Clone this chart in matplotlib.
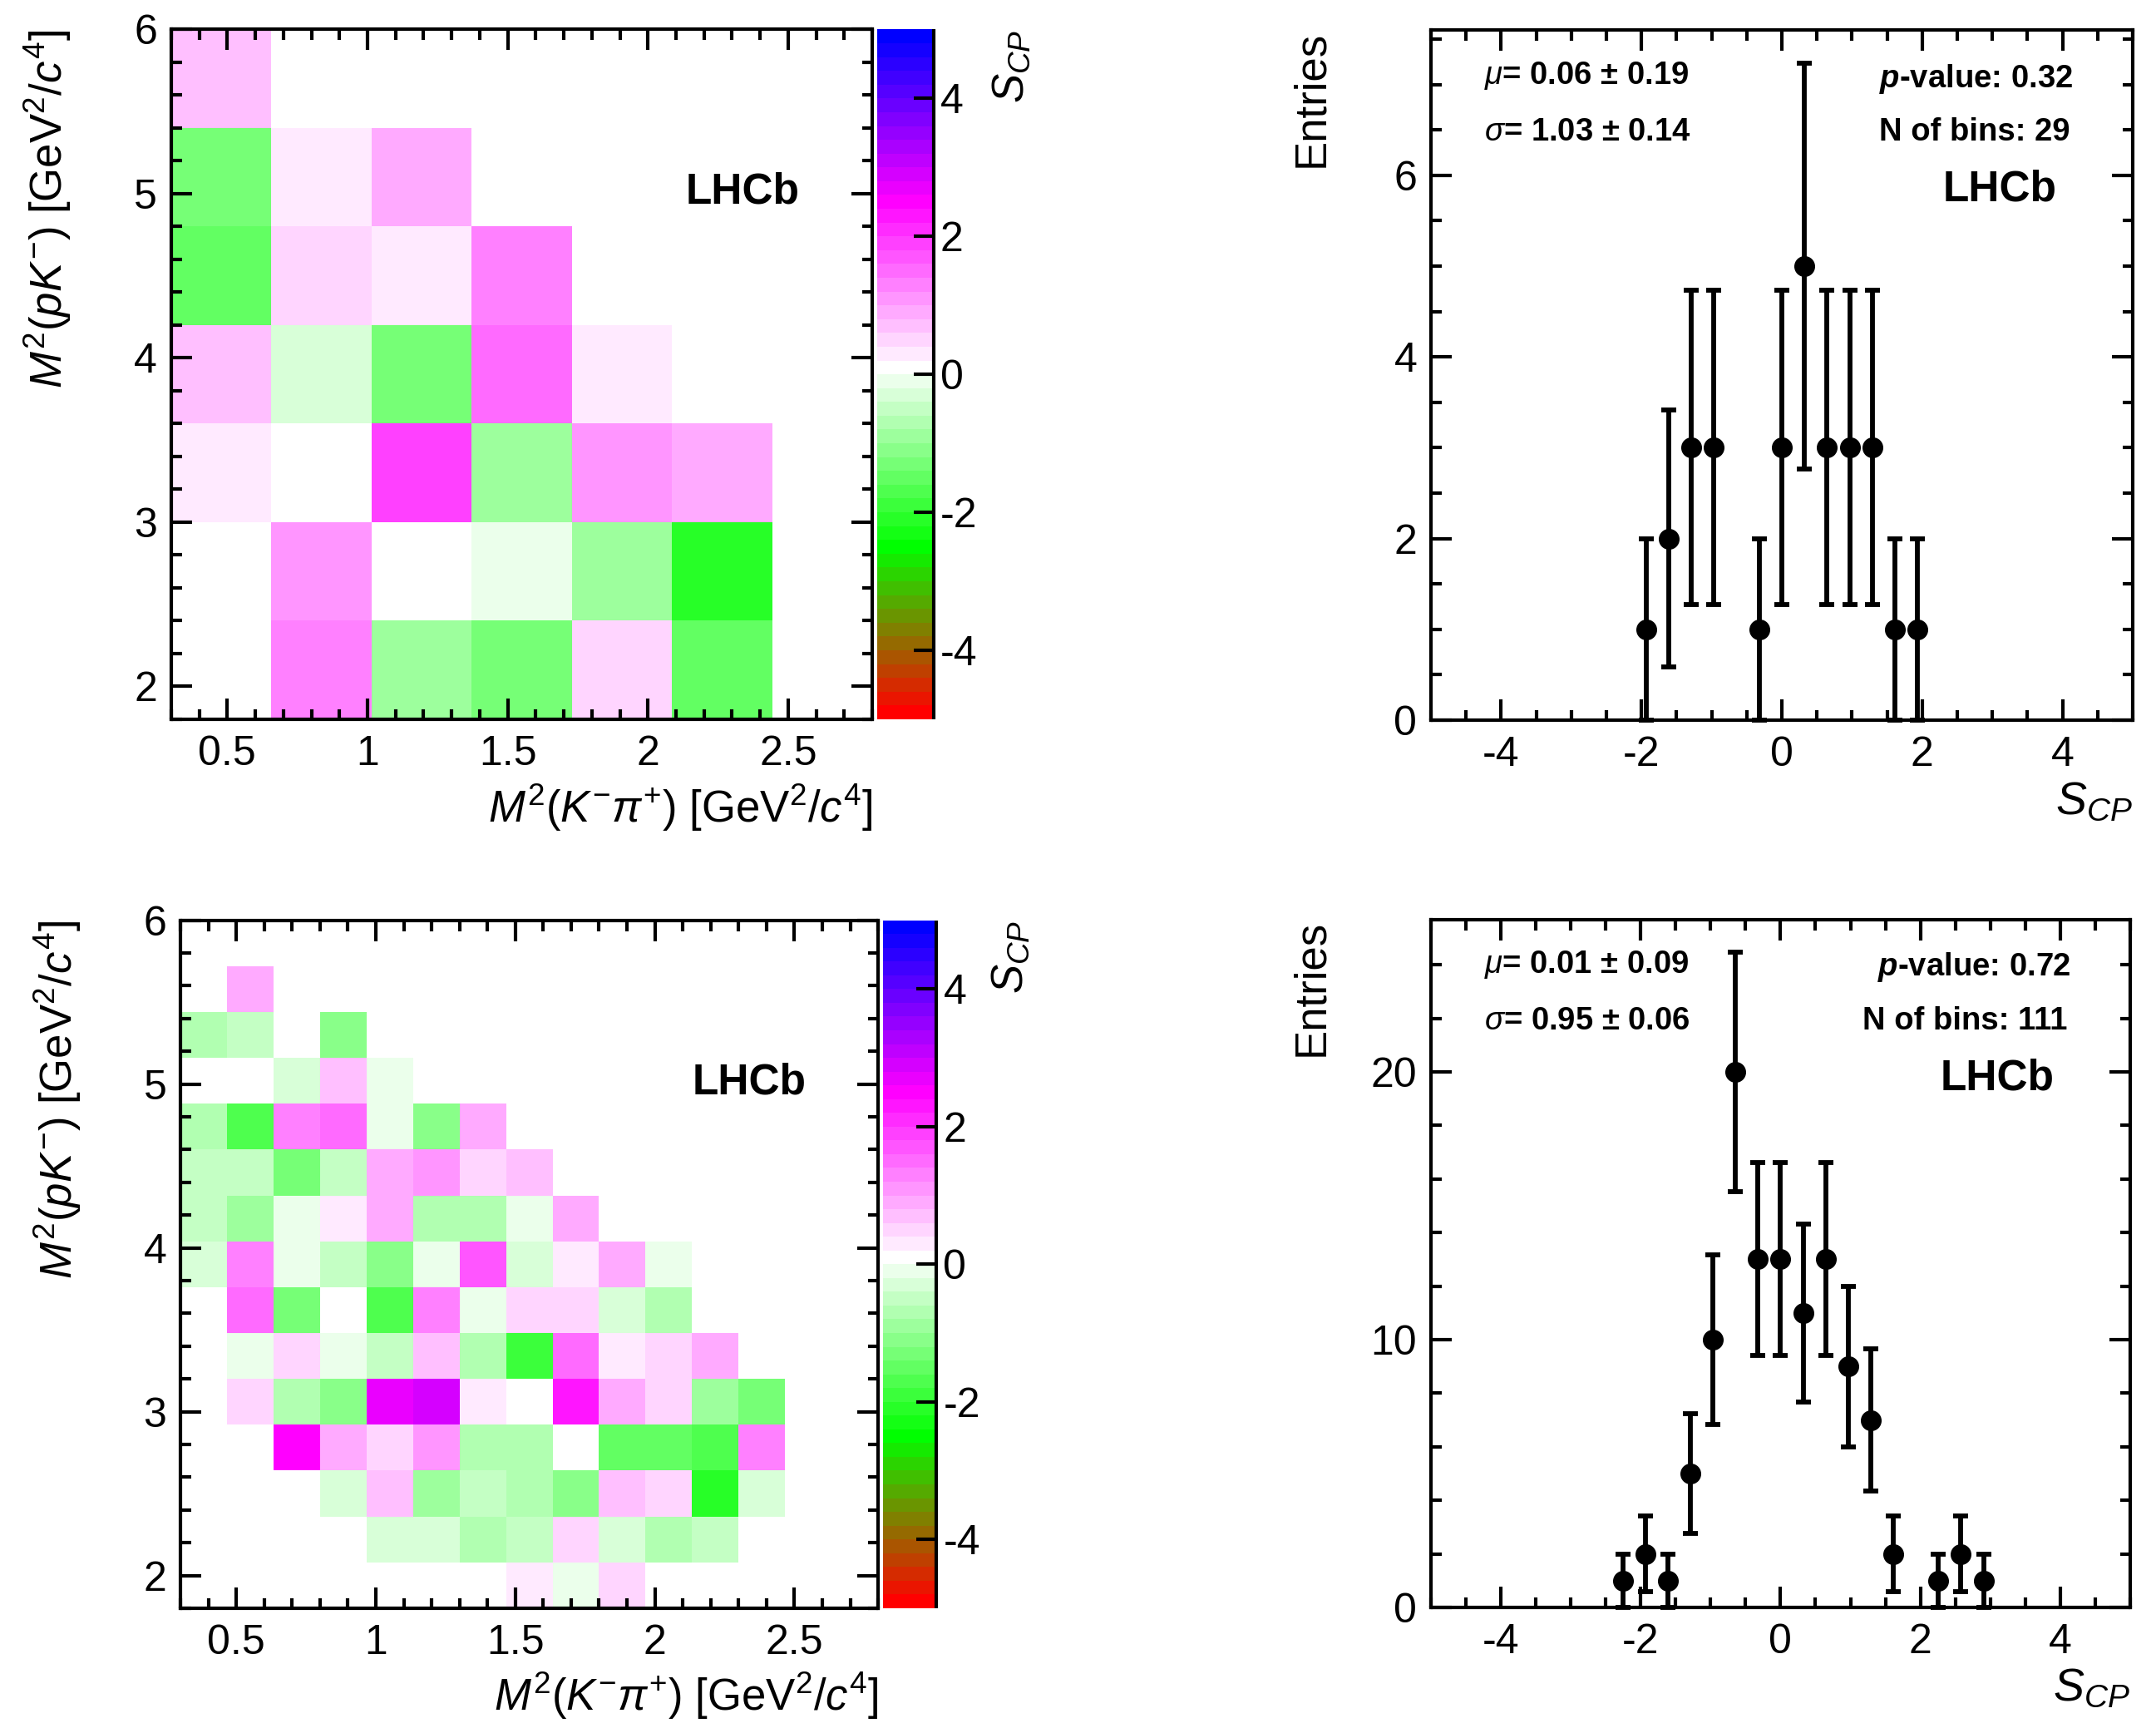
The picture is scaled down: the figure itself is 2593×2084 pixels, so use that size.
import numpy as np
import matplotlib
matplotlib.use("Agg")
import matplotlib.pyplot as plt
from matplotlib.colors import ListedColormap, BoundaryNorm
from matplotlib.ticker import MultipleLocator, FuncFormatter

plt.rcParams['font.family'] = ['Liberation Sans', 'DejaVu Sans']
plt.rcParams['mathtext.fontset'] = 'custom'
plt.rcParams['mathtext.rm'] = 'Liberation Sans'
plt.rcParams['mathtext.it'] = 'Liberation Sans:italic'
plt.rcParams['mathtext.bf'] = 'Liberation Sans:bold'
plt.rcParams['mathtext.bfit'] = 'Liberation Sans:italic:bold'
plt.rcParams['axes.unicode_minus'] = False

n = np.nan
# ---------------- data ----------------
# Dalitz-plot binning
m2_kpi_range = (0.3, 2.8)
m2_pk_range = (1.8, 6.0)
coarse_nbins = 7
fine_nbins = 15

# S_CP per bin, coarse binning; rows from low M2(pK) to high, columns low->high M2(Kpi)
scp_coarse = [
    [n, 1.3, -0.9, -1.3, 0.5, -1.5, n],
    [n, 1.1, 0.1, -0.1, -0.9, -2.1, n],
    [0.3, 0.1, 1.9, -0.9, 1.1, 0.9, n],
    [0.7, -0.3, -1.3, 1.5, 0.3, n, n],
    [-1.5, 0.5, 0.3, 1.3, n, n, n],
    [-1.3, 0.3, 0.9, n, n, n, n],
    [0.7, n, n, n, n, n, n],
]

# S_CP per bin, fine binning
scp_fine = [
    [n, n, n, n, n, n, n, 0.3, -0.1, 0.5, n, n, n, n, n],
    [n, n, n, n, -0.3, -0.3, -0.7, -0.5, 0.5, -0.3, -0.7, -0.5, n, n, n],
    [n, n, n, -0.3, 0.7, -0.9, -0.5, -0.7, -1.1, 0.7, 0.5, -2.1, -0.3, n, n],
    [n, n, 2.5, 0.9, 0.5, 1.1, -0.7, -0.7, 0.1, -1.5, -1.5, -1.7, 1.3, n, n],
    [n, 0.5, -0.7, -1.1, 2.7, 2.9, 0.3, 0.1, 2.3, 0.9, 0.5, -0.9, -1.3, n, n],
    [n, -0.1, 0.5, -0.1, -0.5, 0.7, -0.7, -1.9, 1.5, 0.3, 0.5, 0.9, n, n, n],
    [0.1, 1.5, -1.3, 0.1, -1.7, 1.3, -0.1, 0.5, 0.5, -0.3, -0.7, n, n, n, n],
    [-0.3, 1.3, -0.1, -0.5, -1.1, -0.1, 1.7, -0.3, 0.3, 0.9, -0.1, n, n, n, n],
    [-0.5, -0.9, -0.1, 0.3, 0.9, -0.7, -0.7, -0.1, 0.9, n, n, n, n, n, n],
    [-0.5, -0.5, -1.3, -0.5, 0.9, 1.1, 0.5, 0.7, n, n, n, n, n, n, n],
    [-0.7, -1.7, 1.3, 1.5, -0.1, -1.1, 0.9, n, n, n, n, n, n, n, n],
    [0.1, 0.1, -0.3, 0.7, -0.1, n, n, n, n, n, n, n, n, n, n],
    [-0.7, -0.5, 0.1, -1.1, n, n, n, n, n, n, n, n, n, n, n],
    [n, 0.9, n, n, n, n, n, n, n, n, n, n, n, n, n],
    [n, n, n, n, n, n, n, n, n, n, n, n, n, n, n],
]

# S_CP distributions: 31 bins in [-5, 5]
scp_hist_range = (-5.0, 5.0)
hist_nbins = 31
counts_coarse = [0, 0, 0, 0, 0, 0, 0, 0, 0, 1, 2, 3, 3, 0, 1, 3, 5, 3, 3, 3, 1, 1,
                 0, 0, 0, 0, 0, 0, 0, 0, 0]
counts_fine = [0, 0, 0, 0, 0, 0, 0, 0, 1, 2, 1, 5, 10, 20, 13, 13, 11, 13, 9, 7, 2, 0,
               1, 2, 1, 0, 0, 0, 0, 0, 0]

stats_coarse = [r"$\mu$= 0.06 ± 0.19", r"$\sigma$= 1.03 ± 0.14",
                r"$\mathbfit{p}$-value: 0.32", "N of bins: 29"]
stats_fine = [r"$\mu$= 0.01 ± 0.09", r"$\sigma$= 0.95 ± 0.06",
              r"$\mathbfit{p}$-value: 0.72", "N of bins: 111"]

z_range = (-5.0, 5.0)
z_levels = 50

# ---------------- palette ----------------
stop_k = [0, 12, 25, 37, 49]
stop_rgb = np.array([(1, 0, 0), (0, 1, 0), (1, 1, 1), (1, 0, 1), (0, 0, 1)], float)
ks = np.arange(z_levels)
pal = np.stack([np.interp(ks, stop_k, stop_rgb[:, c]) for c in range(3)], axis=1)
cmap = ListedColormap(pal)
norm = BoundaryNorm(np.linspace(z_range[0], z_range[1], z_levels + 1), z_levels)

fig = plt.figure(figsize=(25.93, 20.84), dpi=100)

LW = 3.0
TICK_FS = 36
LABEL_FS = 38
gfmt = FuncFormatter(lambda v, p: "%g" % v)


def style(ax):
    for s in ax.spines.values():
        s.set_linewidth(LW)
    ax.tick_params(which='both', direction='in', top=True, right=True, width=LW,
                   labelsize=TICK_FS)
    ax.tick_params(which='major', length=18)
    ax.tick_params(which='minor', length=9)
    ax.tick_params(axis='x', which='both', pad=14)
    ax.tick_params(axis='y', which='both', pad=12)


def heatmap(rect, cbrect, values, nb):
    ax = fig.add_axes(rect)
    xe = np.linspace(m2_kpi_range[0], m2_kpi_range[1], nb + 1)
    ye = np.linspace(m2_pk_range[0], m2_pk_range[1], nb + 1)
    arr = np.ma.masked_invalid(np.array(values, float))
    mesh = ax.pcolormesh(xe, ye, arr, cmap=cmap, norm=norm, shading='flat',
                         antialiased=False, edgecolors='none')
    ax.set_xlim(*m2_kpi_range)
    ax.set_ylim(*m2_pk_range)
    style(ax)
    ax.xaxis.set_major_locator(MultipleLocator(0.5))
    ax.xaxis.set_minor_locator(MultipleLocator(0.1))
    ax.yaxis.set_major_locator(MultipleLocator(1))
    ax.yaxis.set_minor_locator(MultipleLocator(0.2))
    ax.xaxis.set_major_formatter(gfmt)
    ax.yaxis.set_major_formatter(gfmt)
    ax.text(1.0, -0.128, r"$M^{2}(K^{-}\pi^{+})$ [GeV$^{2}$/$c^{4}$]", transform=ax.transAxes,
            ha='right', va='center', fontsize=LABEL_FS)
    ax.text(-0.176, 1.0, r"$M^{2}(pK^{-})$ [GeV$^{2}$/$c^{4}$]", transform=ax.transAxes,
            ha='right', va='center', rotation=90, rotation_mode='anchor', fontsize=LABEL_FS)
    ax.text(0.815, 0.764, "LHCb", transform=ax.transAxes, ha='center', va='center',
            fontsize=37, fontweight='bold')
    ax.set_zorder(2)

    cax = fig.add_axes(cbrect)
    cb = fig.colorbar(mesh, cax=cax, orientation='vertical')
    cb.outline.set_visible(False)
    cax.plot([1, 1], [0, 1], transform=cax.transAxes, color='k', lw=LW, clip_on=False,
             solid_capstyle='butt')
    cb.set_ticks([-4, -2, 0, 2, 4])
    cb.ax.yaxis.set_major_formatter(gfmt)
    cax.minorticks_off()
    cax.tick_params(axis='y', which='major', direction='in', length=17, width=LW,
                    right=True, left=False, labelright=True, labelleft=False,
                    labelsize=TICK_FS, pad=6)
    cax.text(2.4, 1.0, r"$S_{CP}$", transform=cax.transAxes, ha='right', va='center',
             rotation=90, rotation_mode='anchor', fontsize=LABEL_FS)
    return ax


def histogram(rect, counts, stats, ymajor, yminor):
    ax = fig.add_axes(rect)
    edges = np.linspace(scp_hist_range[0], scp_hist_range[1], hist_nbins + 1)
    centers = 0.5 * (edges[:-1] + edges[1:])
    c = np.array(counts, float)
    m = c > 0
    ax.errorbar(centers[m], c[m], yerr=np.sqrt(c[m]), fmt='o', color='k', ms=17,
                elinewidth=4.2, capsize=6.5, capthick=4.2, clip_on=False, zorder=3)
    ax.set_xlim(*scp_hist_range)
    ax.set_ylim(0, 1.05 * np.max(c + np.sqrt(c)))
    style(ax)
    ax.xaxis.set_major_locator(MultipleLocator(2))
    ax.xaxis.set_minor_locator(MultipleLocator(0.5))
    ax.yaxis.set_major_locator(MultipleLocator(ymajor))
    ax.yaxis.set_minor_locator(MultipleLocator(yminor))
    ax.xaxis.set_major_formatter(gfmt)
    ax.yaxis.set_major_formatter(gfmt)
    ax.text(1.0, -0.088, r"$S_{CP}$", transform=ax.transAxes, ha='right', va='top',
            fontsize=LABEL_FS + 2)
    ax.text(-0.171, 1.0, "Entries", transform=ax.transAxes, ha='right', va='center',
            rotation=90, rotation_mode='anchor', fontsize=LABEL_FS)
    ax.text(0.076, 0.934, stats[0], transform=ax.transAxes, ha='left', va='center',
            fontsize=27.5, fontweight='bold')
    ax.text(0.076, 0.852, stats[1], transform=ax.transAxes, ha='left', va='center',
            fontsize=27.5, fontweight='bold')
    ax.text(0.915, 0.930, stats[2], transform=ax.transAxes, ha='right', va='center',
            fontsize=27.5, fontweight='bold')
    ax.text(0.91, 0.852, stats[3], transform=ax.transAxes, ha='right', va='center',
            fontsize=27.5, fontweight='bold')
    ax.text(0.81, 0.769, "LHCb", transform=ax.transAxes, ha='center', va='center',
            fontsize=37, fontweight='bold')
    return ax


heatmap([0.0794, 0.585, 0.3252, 0.398], [0.4069, 0.585, 0.026, 0.398], scp_coarse, coarse_nbins)
histogram([0.6637, 0.5845, 0.3255, 0.398], counts_coarse, stats_coarse, 2, 0.5)
heatmap([0.0837, 0.072, 0.3236, 0.397], [0.4096, 0.072, 0.0247, 0.397], scp_fine, fine_nbins)
histogram([0.6637, 0.0725, 0.3243, 0.397], counts_fine, stats_fine, 10, 2)

fig.savefig("out.png", dpi=100)
